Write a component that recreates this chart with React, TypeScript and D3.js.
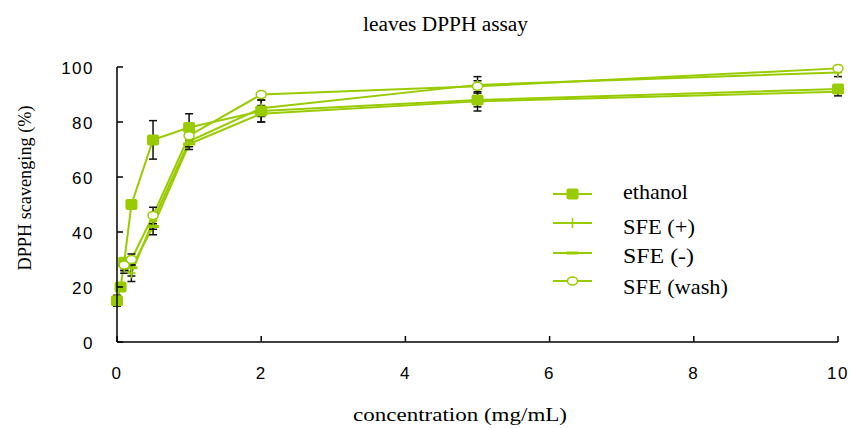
import React from "react";
import * as d3 from "d3";

const xTicks = [0, 2, 4, 6, 8, 10];
const yTicks = [0, 20, 40, 60, 80, 100];

const ethanolX = [0, 0.05, 0.1, 0.2, 0.5, 1, 2, 5, 10];
const ethanolY = [15, 20, 29, 50, 73.5, 78, 84, 88, 92];
const ethanolErr = [2, 1.5, 1, 1, 7, 5, 4, 4, 1.5];

const sfeX = [0.1, 0.2, 0.5, 1, 2, 5, 10];
const sfePlusY = [27, 25, 44, 73, 85, 93.5, 98];
const sfePlusErr = [2, 3, 3, 2, 3, 3, 1.5];
const sfeMinusY = [28, 27, 42, 72, 83, 87.5, 91];
const sfeMinusErr = [2, 3, 3, 2, 3, 2, 1.5];
const sfeWashY = [28, 30, 46, 75, 90, 93, 99.5];
const sfeWashErr = [2, 2, 3, 2, 1, 2, 1];

const seriesNames = ["ethanol", "SFE (+)", "SFE (-)", "SFE (wash)"];

const GREEN = "#99cc00";

export default function App() {
  const W = 853, H = 428;
  const x = d3.scaleLinear().domain([0, 10]).range([117, 838]);
  const y = d3.scaleLinear().domain([0, 100]).range([342, 67]);
  const line = d3.line<[number, number]>().x(d => x(d[0])).y(d => y(d[1]));

  const series = [
    { name: seriesNames[0], xs: ethanolX, ys: ethanolY, err: ethanolErr, marker: "square" },
    { name: seriesNames[1], xs: sfeX, ys: sfePlusY, err: sfePlusErr, marker: "plus" },
    { name: seriesNames[2], xs: sfeX, ys: sfeMinusY, err: sfeMinusErr, marker: "dash" },
    { name: seriesNames[3], xs: sfeX, ys: sfeWashY, err: sfeWashErr, marker: "circle" },
  ];

  const marker = (m: string, cx: number, cy: number, key: string) => {
    if (m === "square") return <rect key={key} x={cx - 6} y={cy - 5.5} width={12} height={11} rx={2} fill={GREEN} />;
    if (m === "plus") return <g key={key}><line x1={cx - 4} x2={cx + 4} y1={cy} y2={cy} stroke={GREEN} strokeWidth={2} /><line x1={cx} x2={cx} y1={cy - 5} y2={cy + 5} stroke={GREEN} strokeWidth={1.5} /></g>;
    if (m === "dash") return <line key={key} x1={cx - 6} x2={cx + 6} y1={cy} y2={cy} stroke={GREEN} strokeWidth={3} />;
    return <ellipse key={key} cx={cx} cy={cy} rx={5} ry={4} fill="white" stroke={GREEN} strokeWidth={1.5} />;
  };

  const legendY = [194, 223, 253, 281];
  const legendBase = [199, 234, 263, 294];
  const legendLen = [65, 72, 71, 105];

  return (
    <svg width={W} height={H} style={{ position: "absolute", left: 0, top: 0, background: "white" }}>
      <rect width={W} height={H} fill="white" />
      <text x={363} y={31} fontFamily="Liberation Serif" fontSize={20} textLength={165} lengthAdjust="spacingAndGlyphs">leaves DPPH assay</text>

      {series.map((s, i) => (
        <path key={"l" + i} d={line(s.xs.map((v, j) => [v, s.ys[j]] as [number, number])) || ""} fill="none" stroke={GREEN} strokeWidth={2} />
      ))}
      {series.map((s, i) => s.xs.map((v, j) => {
        const cx = x(v), t = y(s.ys[j] + s.err[j]), b = y(s.ys[j] - s.err[j]);
        return (
          <g key={"e" + i + "-" + j} stroke="#111" strokeWidth={1.5}>
            <line x1={cx} x2={cx} y1={t} y2={b} />
            <line x1={cx - 4} x2={cx + 4} y1={t} y2={t} />
            <line x1={cx - 4} x2={cx + 4} y1={b} y2={b} />
          </g>
        );
      }))}
      {series.map((s, i) => s.xs.map((v, j) => marker(s.marker, x(v), y(s.ys[j]), "m" + i + "-" + j)))}

      <line x1={x(0)} x2={x(0)} y1={y(100)} y2={y(0)} stroke="#000" strokeWidth={1.5} />
      <line x1={x(0)} x2={x(10)} y1={y(0)} y2={y(0)} stroke="#000" strokeWidth={1.5} />
      {yTicks.map(t => (
        <g key={"yt" + t}>
          <line x1={x(0)} x2={x(0) + 6} y1={y(t)} y2={y(t)} stroke="#000" strokeWidth={1.5} />
          <text x={94} y={y(t) + 6.5} textAnchor="end" fontFamily="Liberation Sans" fontSize={17} letterSpacing={1.5}>{t}</text>
        </g>
      ))}
      {xTicks.map(t => (
        <g key={"xt" + t}>
          <line x1={x(t)} x2={x(t)} y1={y(0)} y2={y(0) - 6} stroke="#000" strokeWidth={1.5} />
          <text x={x(t)} y={379} textAnchor="middle" fontFamily="Liberation Sans" fontSize={17} letterSpacing={1.5}>{t}</text>
        </g>
      ))}
      <text transform="translate(31,188) rotate(-90)" textAnchor="middle" fontFamily="Liberation Serif" fontSize={19} textLength={165} lengthAdjust="spacingAndGlyphs">DPPH scavenging (%)</text>
      <text x={353} y={421} fontFamily="Liberation Serif" fontSize={18} textLength={214} lengthAdjust="spacingAndGlyphs">concentration (mg/mL)</text>

      {series.map((s, i) => (
        <g key={"lg" + i}>
          <line x1={553} x2={592} y1={legendY[i]} y2={legendY[i]} stroke={GREEN} strokeWidth={2} />
          {marker(s.marker, 572.5, legendY[i], "lm" + i)}
          <text x={623} y={legendBase[i]} fontFamily="Liberation Serif" fontSize={21} textLength={legendLen[i]} lengthAdjust="spacingAndGlyphs">{s.name}</text>
        </g>
      ))}
    </svg>
  );
}
